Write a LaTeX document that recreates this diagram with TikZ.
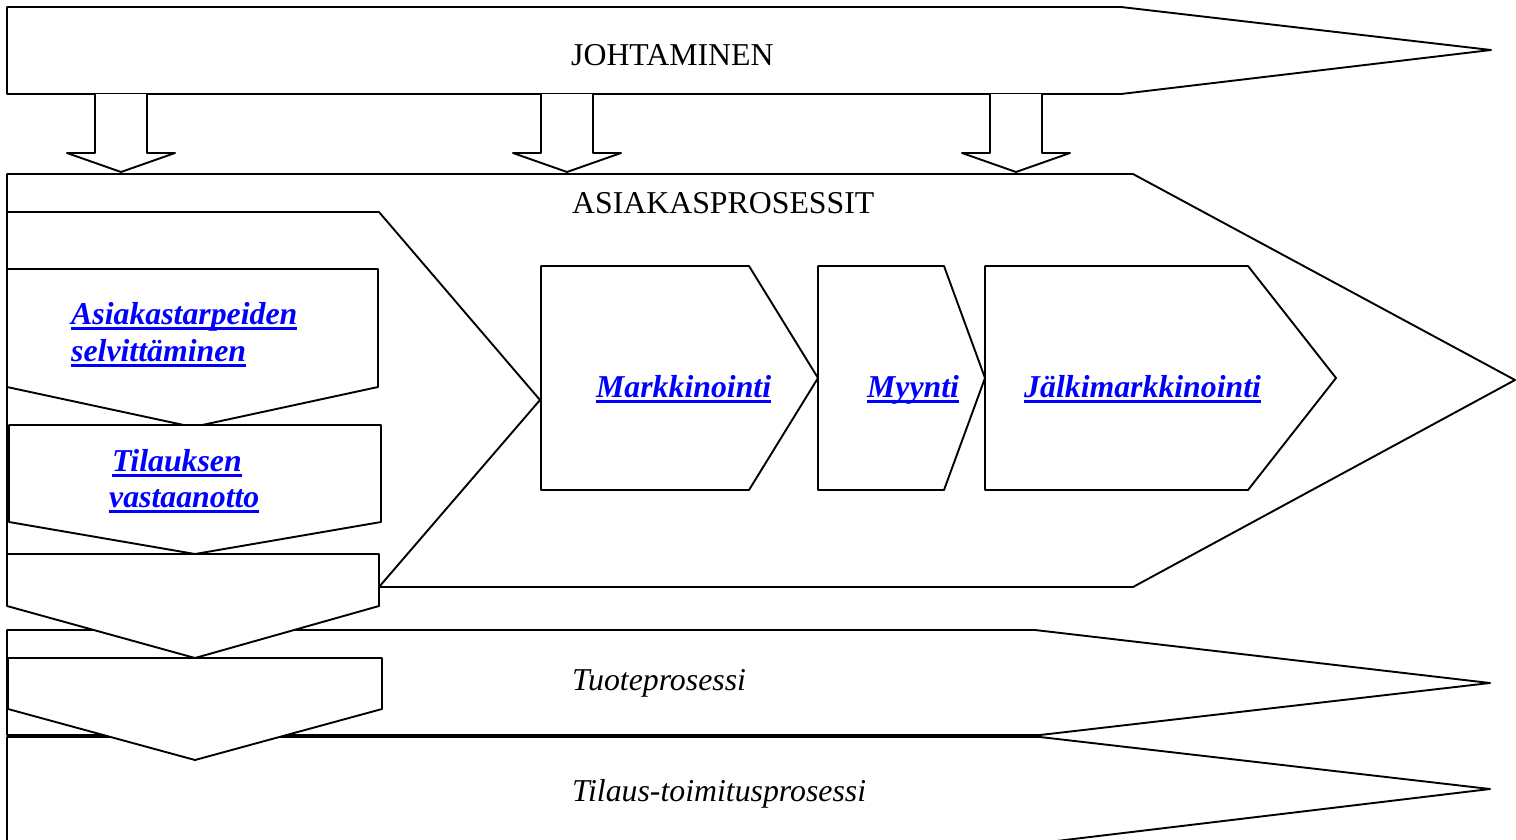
\documentclass[tikz,border=0pt]{standalone}
\usepackage{fontspec}
\setmainfont{Liberation Serif}
\definecolor{linkblue}{RGB}{0,0,255}
% bold italic hyperlink-style text with a heavy underline through the descenders
\newcommand\linktext[1]{\setbox0\hbox{\bfseries\itshape #1}\rlap{\rule[-6.2pt]{\wd0}{2.8pt}}\box0}
\begin{document}
\begin{tikzpicture}[x=1pt,y=-1pt,
  blk/.style={draw=black, fill=white, line width=1.9pt, line join=round},
  lbl/.style={anchor=base west, inner sep=0pt, font=\fontsize{31.8}{38}\selectfont},
  lnk/.style={lbl, text=linkblue}]
\useasboundingbox (0,0) rectangle (1516,839);
\clip (0,0) rectangle (1516,839);
\fill[white] (0,0) rectangle (1516,839);

% management band
\path[blk] (7,7) -- (1121,7) -- (1491,50) -- (1121,94) -- (7,94) -- cycle;
\node[lbl] (johto) at (571,65.5) {JOHTAMINEN};

% block arrows from management down to the customer processes
\foreach \c in {121,567,1016}{
  \path[blk] (\c-26,94) -- (\c-26,153) -- (\c-54,153) -- (\c,172)
             -- (\c+54,153) -- (\c+26,153) -- (\c+26,94);
}

% customer processes band
\path[blk] (7,174) -- (1133,174) -- (1515,380) -- (1133,587) -- (7,587) -- cycle;
\node[lbl] (asproc) at (572,213.5) {ASIAKASPROSESSIT};

% inner chevron holding the vertical steps
\path[blk] (7,212) -- (379,212) -- (540,400) -- (379,587) -- (7,587) -- cycle;

% horizontal chain of steps
\path[blk] (541,266) -- (749,266) -- (818,378) -- (749,490) -- (541,490) -- cycle;
\path[blk] (818,266) -- (944,266) -- (985,378) -- (944,490) -- (818,490) -- cycle;
\path[blk] (985,266) -- (1248,266) -- (1336,378) -- (1248,490) -- (985,490) -- cycle;
\node[lnk] (markk) at (596,397) {\linktext{Markkinointi}};
\node[lnk] (myynti) at (867,397) {\linktext{Myynti}};
\node[lnk] (jalki) at (1024,397) {\linktext{Jälkimarkkinointi}};

% product process and order-delivery process bands
\path[blk] (7,630) -- (1035,630) -- (1490,683) -- (1040,735) -- (7,735) -- cycle;
\path[blk] (7,737) -- (1040,737) -- (1490,789) -- (1040,843) -- (7,843) -- cycle;
\node[lbl, font=\fontsize{31.8}{38}\selectfont\itshape] (tuote) at (572,690) {Tuoteprosessi};
\node[lbl, font=\fontsize{31.8}{38}\selectfont\itshape] (tilaus) at (572,801.5) {Tilaus-toimitusprosessi};

% vertical stack of downward steps
\path[blk] (7,269) -- (378,269) -- (378,387) -- (193,427) -- (7,387) -- cycle;
\path[blk] (9,425) -- (381,425) -- (381,522) -- (195,554) -- (9,522) -- cycle;
\path[blk] (7,554) -- (379,554) -- (379,606) -- (195,658) -- (7,606) -- cycle;
\path[blk] (8,658) -- (382,658) -- (382,709) -- (195,760) -- (8,709) -- cycle;
\node[lnk] (asiak1) at (71,324) {\linktext{Asiakastarpeiden}};
\node[lnk] (asiak2) at (71,361) {\linktext{selvittäminen}};
\node[lnk] (tilv1) at (112,471) {\linktext{Tilauksen}};
\node[lnk] (tilv2) at (109,507) {\linktext{vastaanotto}};
\end{tikzpicture}
\end{document}
